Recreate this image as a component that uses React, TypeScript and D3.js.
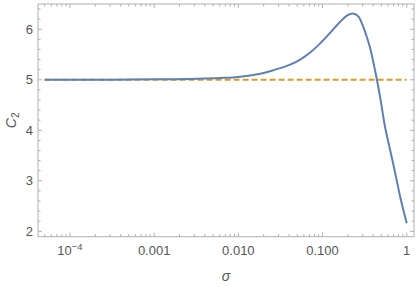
import React from "react";
import * as d3 from "d3";

// sigma samples (log spaced) and the C2 curve
const sigmaValues = [
  5e-5, 1e-4, 3.16e-4, 0.001, 0.00316, 0.0061, 0.01, 0.0138, 0.0182, 0.0239,
  0.0314, 0.0413, 0.0543, 0.0714, 0.0939, 0.1234, 0.1622, 0.195, 0.228, 0.268,
  0.296, 0.331, 0.369, 0.404, 0.443, 0.49, 0.544, 0.61, 0.678, 0.75, 0.82,
  0.91, 1,
];
const c2Values = [
  5.0, 5.0, 5.002, 5.008, 5.02, 5.035, 5.055, 5.085, 5.12, 5.17, 5.23, 5.3,
  5.4, 5.54, 5.72, 5.93, 6.15, 6.27, 6.31, 6.25, 6.1, 5.88, 5.62, 5.33, 5.0,
  4.6, 4.13, 3.74, 3.4, 3.06, 2.75, 2.43, 2.16,
];
const refLevel = 5;
const refRange = [5e-5, 1];

const yTicks = [2, 3, 4, 5, 6];
const xMajorTicks = [1e-4, 0.001, 0.01, 0.1, 1];
const xTickLabels = ["10^-4", "0.001", "0.010", "0.100", "1"];

const width = 420;
const height = 287;
const margin = { top: 4, right: 6, bottom: 50.3, left: 38 };

const frameColor = "#b0b0b0";
const labelColor = "#555555";
const font = "'Liberation Sans', Arial, sans-serif";

const App = () => {
  const innerW = width - margin.left - margin.right;
  const innerH = height - margin.top - margin.bottom;

  const xScale = d3.scaleLog().domain([4.17e-5, 1.221]).range([0, innerW]);
  const yScale = d3.scaleLinear().domain([1.893, 6.5]).range([innerH, 0]);

  const data = sigmaValues.map((s, i) => ({ s, c: c2Values[i] }));

  const line = d3
    .line<{ s: number; c: number }>()
    .x((d) => xScale(d.s))
    .y((d) => yScale(d.c))
    .curve(d3.curveMonotoneX);

  // minor ticks for log axis: 2..9 x each decade
  const xMinor: number[] = [];
  for (let e = -5; e <= 0; e++) {
    for (let m = 2; m <= 9; m++) {
      const v = m * Math.pow(10, e);
      if (v > 4.17e-5 && v < 1.221) xMinor.push(v);
    }
  }
  const yMinor = d3
    .range(1.8, 6.6, 0.2)
    .map((v) => Math.round(v * 10) / 10)
    .filter((v) => v > 1.893 && v < 6.5 && !yTicks.includes(v));

  return (
    <svg
      width={width}
      height={height}
      style={{ position: "absolute", left: 0, top: 0, background: "#fff" }}
    >
      <g transform={`translate(${margin.left},${margin.top})`}>
        <rect
          x={0}
          y={0}
          width={innerW}
          height={innerH}
          fill="none"
          stroke={frameColor}
          strokeWidth={1}
        />
        {/* x ticks, bottom and top */}
        {xMajorTicks.map((t) => (
          <g key={"xm" + t}>
            <line x1={xScale(t)} x2={xScale(t)} y1={innerH} y2={innerH - 4} stroke={frameColor} />
            <line x1={xScale(t)} x2={xScale(t)} y1={0} y2={4} stroke={frameColor} />
          </g>
        ))}
        {xMinor.map((t) => (
          <g key={"xn" + t}>
            <line x1={xScale(t)} x2={xScale(t)} y1={innerH} y2={innerH - 2.5} stroke={frameColor} />
            <line x1={xScale(t)} x2={xScale(t)} y1={0} y2={2.5} stroke={frameColor} />
          </g>
        ))}
        {/* y ticks, left and right */}
        {yTicks.map((t) => (
          <g key={"ym" + t}>
            <line x1={0} x2={4} y1={yScale(t)} y2={yScale(t)} stroke={frameColor} />
            <line x1={innerW} x2={innerW - 4} y1={yScale(t)} y2={yScale(t)} stroke={frameColor} />
          </g>
        ))}
        {yMinor.map((t) => (
          <g key={"yn" + t}>
            <line x1={0} x2={2.5} y1={yScale(t)} y2={yScale(t)} stroke={frameColor} />
            <line x1={innerW} x2={innerW - 2.5} y1={yScale(t)} y2={yScale(t)} stroke={frameColor} />
          </g>
        ))}

        {/* tick labels */}
        {yTicks.map((t) => (
          <text
            key={"yl" + t}
            x={-5}
            y={yScale(t)}
            dy="0.35em"
            textAnchor="end"
            fontSize={13}
            fontFamily={font}
            fill={labelColor}
          >
            {t}
          </text>
        ))}
        {xMajorTicks.map((t, i) => {
          const lab = xTickLabels[i];
          if (lab.includes("^")) {
            const [base, exp] = lab.split("^");
            return (
              <text
                key={"xl" + t}
                x={xScale(t)}
                y={innerH + 18}
                textAnchor="middle"
                fontSize={13}
                fontFamily={font}
                fill={labelColor}
              >
                {base}
                <tspan fontSize={9.5} dy={-5}>
                  {exp.replace("-", "\u2212")}
                </tspan>
              </text>
            );
          }
          return (
            <text
              key={"xl" + t}
              x={xScale(t)}
              y={innerH + 18}
              textAnchor="middle"
              fontSize={13}
              fontFamily={font}
              fill={labelColor}
            >
              {lab}
            </text>
          );
        })}

        {/* reference level */}
        <line
          x1={xScale(refRange[0])}
          x2={xScale(refRange[1])}
          y1={yScale(refLevel)}
          y2={yScale(refLevel)}
          stroke="#e19c24"
          strokeWidth={2}
          strokeDasharray="6,3"
        />
        {/* C2 curve */}
        <path d={line(data) ?? ""} fill="none" stroke="#5e81b5" strokeWidth={2} />

        {/* axis labels */}
        <text
          x={innerW / 2}
          y={innerH + 44}
          textAnchor="middle"
          fontSize={14}
          fontStyle="italic"
          fontFamily={font}
          fill={labelColor}
        >
          σ
        </text>
        <text
          transform={`translate(${-22},${innerH / 2}) rotate(-90)`}
          textAnchor="middle"
          fontSize={14}
          fontStyle="italic"
          fontFamily={font}
          fill={labelColor}
        >
          C
          <tspan fontSize={10} dy={3} fontStyle="normal">
            2
          </tspan>
        </text>
      </g>
    </svg>
  );
};

export default App;
